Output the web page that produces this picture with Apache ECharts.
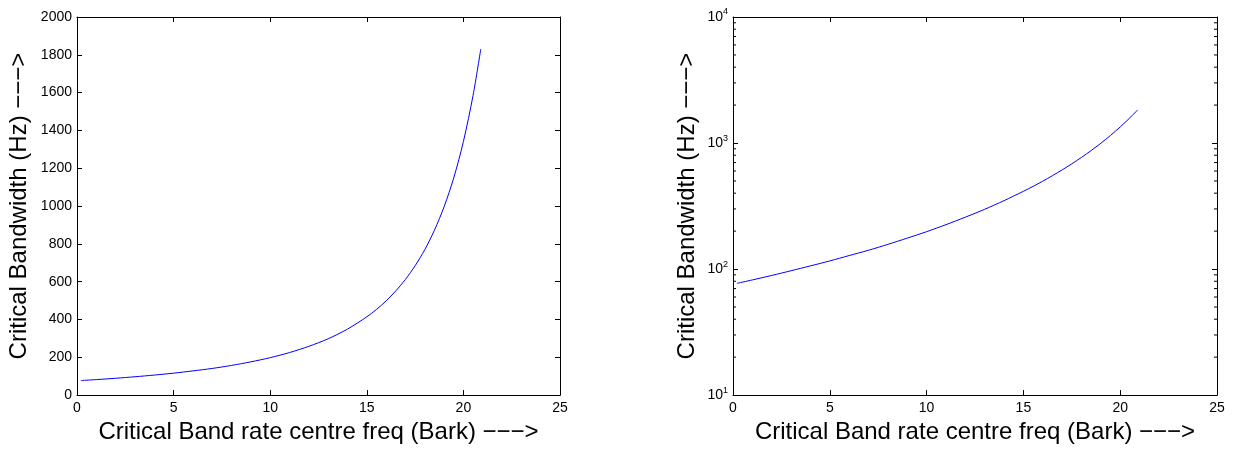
<!DOCTYPE html>
<html>
<head>
<meta charset="UTF-8">
<title>Critical Bandwidth</title>
<script src="https://cdn.jsdelivr.net/npm/echarts@6/dist/echarts.min.js"></script>
</head>
<body style="margin:0;background:#fff">
	<div id="main" style="width: 1238px; height: 449px;"></div>
	<script type="text/javascript">
		// bark values and bandwidths
		var bark = [0.2, 1, 2, 3, 4, 5, 6, 7, 8, 9, 10, 11, 12, 13, 14, 15, 15.5, 16, 16.5, 17, 17.5, 18, 18.5, 19, 19.5, 20, 20.5, 20.9];
		var bandwidth = [77, 82, 89, 97, 106, 116, 128, 141, 157, 176, 198, 225, 258, 298, 349, 414, 453, 498, 551, 612, 684, 769, 872, 996, 1149, 1341, 1585, 1831];
		var minorTicks = [20, 30, 40, 50, 60, 70, 80, 90, 200, 300, 400, 500, 600, 700, 800, 900, 2000, 3000, 4000, 5000, 6000, 7000, 8000, 9000];
		var xName = 'Critical Band rate centre freq (Bark) −−−>';
		var yName = 'Critical Bandwidth (Hz) −−−>';

		var font = 'Liberation Sans, Arial, Helvetica, sans-serif';
		var pts = bark.map(function (b, i) { return [b, bandwidth[i]]; });

		function xAx(grid, bottom) {
			return {
				type: 'value', gridIndex: grid, position: bottom ? 'bottom' : 'top',
				min: 0, max: 25, interval: 5,
				name: bottom ? xName : '', nameLocation: 'middle', nameGap: 20,
				nameTextStyle: { fontFamily: font, fontSize: 24, color: '#000' },
				axisLine: { show: true, onZero: false, lineStyle: { color: '#000', width: 1 } },
				axisTick: { show: true, inside: true, length: 5, lineStyle: { color: '#000' } },
				axisLabel: { show: bottom, margin: 6, fontFamily: font, fontSize: 14, color: '#000' },
				splitLine: { show: false }
			};
		}

		function yLin(left) {
			return {
				type: 'value', gridIndex: 0, position: left ? 'left' : 'right',
				min: 0, max: 2000, interval: 200,
				name: left ? yName : '', nameLocation: 'middle', nameGap: 46,
				nameTextStyle: { fontFamily: font, fontSize: 24, color: '#000' },
				axisLine: { show: true, onZero: false, lineStyle: { color: '#000', width: 1 } },
				axisTick: { show: true, inside: true, length: 5, lineStyle: { color: '#000' } },
				axisLabel: {
					show: left, margin: 5, fontFamily: font, fontSize: 14, color: '#000',
					formatter: function (v) { return String(v); }
				},
				splitLine: { show: false }
			};
		}

		function yLog(left) {
			return {
				type: 'log', logBase: 10, gridIndex: 1, position: left ? 'left' : 'right',
				min: 10, max: 10000,
				name: left ? yName : '', nameLocation: 'middle', nameGap: 34,
				nameTextStyle: { fontFamily: font, fontSize: 24, color: '#000' },
				axisLine: { show: true, onZero: false, lineStyle: { color: '#000', width: 1 } },
				axisTick: { show: true, inside: true, length: 5, lineStyle: { color: '#000' } },
				axisLabel: {
					show: left, margin: 5, color: '#000',
					formatter: function (v) {
						return '{b|10}{s|' + Math.round(Math.log10(v)) + '}';
					},
					rich: {
						b: { fontFamily: font, fontSize: 14, color: '#000' },
						s: { fontFamily: font, fontSize: 9, color: '#000', padding: [0, 0, 10, 0] }
					}
				},
				splitLine: { show: false }
			};
		}

		var myChart = echarts.init(document.getElementById('main'));
		var option = {
			animation: false,
			backgroundColor: '#fff',
			grid: [
				{ left: 77, top: 17, width: 483, height: 381 },
				{ left: 733, top: 17, width: 484, height: 381 }
			],
			xAxis: [xAx(0, true), xAx(0, false), xAx(1, true), xAx(1, false)],
			yAxis: [yLin(true), yLin(false), yLog(true), yLog(false)],
			series: [
				{
					type: 'line', xAxisIndex: 0, yAxisIndex: 0, data: pts,
					showSymbol: false, smooth: 0.3,
					lineStyle: { color: '#0000ff', width: 1 }
				},
				{
					type: 'line', xAxisIndex: 2, yAxisIndex: 2, data: pts,
					showSymbol: false, smooth: 0.3,
					lineStyle: { color: '#0000ff', width: 1 }
				},
				{
					// minor ticks of the log axis, on both sides of the box
					type: 'custom', xAxisIndex: 2, yAxisIndex: 2, silent: true, clip: false,
					data: minorTicks.map(function (v) { return [0, v]; }),
					renderItem: function (params, api) {
						var p = api.coord([0, api.value(1)]);
						var q = api.coord([25, api.value(1)]);
						var st = { stroke: '#000', lineWidth: 1 };
						return {
							type: 'group',
							children: [
								{ type: 'line', shape: { x1: p[0], y1: p[1], x2: p[0] + 3, y2: p[1] }, style: st },
								{ type: 'line', shape: { x1: q[0], y1: q[1], x2: q[0] - 3, y2: q[1] }, style: st }
							]
						};
					}
				}
			]
		};
		myChart.setOption(option);
	</script>
</body>
</html>
